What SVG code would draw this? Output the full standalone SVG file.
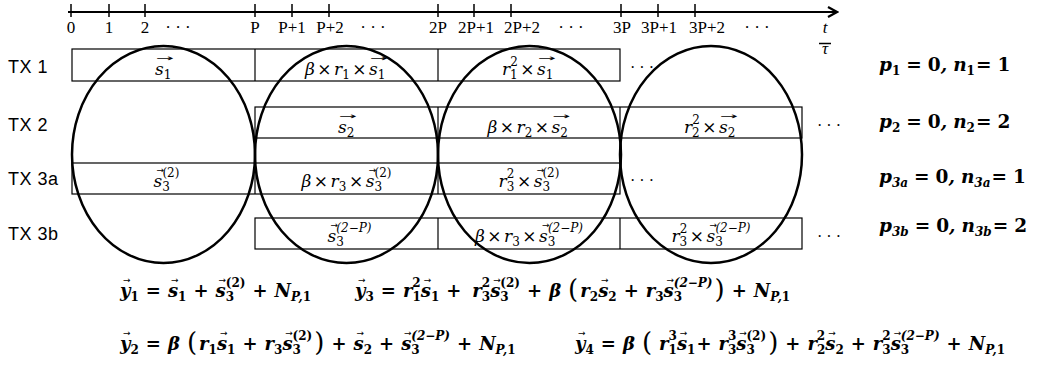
<svg xmlns="http://www.w3.org/2000/svg" width="1039" height="373" viewBox="0 0 1039 373">
<style>
.ax{font-family:"Liberation Serif",serif;font-size:17px;fill:#000;text-anchor:middle}
.lb{font-family:"Liberation Sans",Arial,sans-serif;font-size:18px;fill:#000;letter-spacing:0.5px}
.m{font-family:"DejaVu Serif",serif;font-style:italic;font-size:17px;fill:#000;text-anchor:middle}
.e{font-family:"DejaVu Serif",serif;font-style:italic;font-weight:bold;font-size:18px;fill:#000}
.p{font-family:"DejaVu Serif",serif;font-style:italic;font-weight:bold;font-size:18.5px;fill:#000}
.s{font-size:12px}
.u{font-style:normal}
.ar{font-family:"DejaVu Sans",sans-serif;font-style:normal;font-weight:normal;font-size:9px}
.pa{font-size:26px;font-style:normal;font-weight:normal}
.dots{font-family:"Liberation Serif",serif;font-size:16px;fill:#000}
.box{fill:none;stroke:#000;stroke-width:1.2}
.ell{fill:none;stroke:#000;stroke-width:2.5}
.tick{stroke:#000;stroke-width:1.5}
</style>
<defs>
<marker id="ah" markerWidth="12" markerHeight="12" refX="10" refY="6" orient="auto" markerUnits="userSpaceOnUse">
<path d="M1,1 L10,6 L1,11" fill="none" stroke="#000" stroke-width="2.2"/>
</marker>
</defs>

<g id="connectors">
<line x1="68" y1="12" x2="837" y2="12" stroke="#000" stroke-width="2" marker-end="url(#ah)"/>
<line class="tick" x1="71" y1="4" x2="71" y2="17"/>
<line class="tick" x1="109" y1="4" x2="109" y2="17"/>
<line class="tick" x1="145" y1="4" x2="145" y2="17"/>
<line class="tick" x1="255" y1="4" x2="255" y2="17"/>
<line class="tick" x1="292" y1="4" x2="292" y2="17"/>
<line class="tick" x1="329" y1="4" x2="329" y2="17"/>
<line class="tick" x1="438" y1="4" x2="438" y2="17"/>
<line class="tick" x1="474" y1="4" x2="474" y2="17"/>
<line class="tick" x1="511" y1="4" x2="511" y2="17"/>
<line class="tick" x1="621" y1="4" x2="621" y2="17"/>
<line class="tick" x1="658" y1="4" x2="658" y2="17"/>
<line class="tick" x1="695" y1="4" x2="695" y2="17"/>
</g>

<g id="axis-labels">
<text class="ax" x="71" y="33">0</text>
<text class="ax" x="109" y="33">1</text>
<text class="ax" x="145" y="33">2</text>
<text class="ax" x="178" y="33">· · ·</text>
<text class="ax" x="255" y="33">P</text>
<text class="ax" x="292" y="33">P+1</text>
<text class="ax" x="330" y="33">P+2</text>
<text class="ax" x="373" y="33">· · ·</text>
<text class="ax" x="438" y="33">2P</text>
<text class="ax" x="476" y="33">2P+1</text>
<text class="ax" x="522" y="33">2P+2</text>
<text class="ax" x="571" y="33">· · ·</text>
<text class="ax" x="622" y="33">3P</text>
<text class="ax" x="659" y="33">3P+1</text>
<text class="ax" x="707" y="33">3P+2</text>
<text class="ax" x="757" y="33">· · ·</text>
<text class="ax" x="825" y="33" font-style="italic" font-size="17">t</text>
<line x1="819" y1="43.5" x2="831" y2="43.5" stroke="#000" stroke-width="1.5"/>
<text class="ax" x="825" y="54" font-style="italic" font-size="15">τ</text>
</g>

<g id="row-labels">
<text class="lb" x="8" y="73">TX 1</text>
<text class="lb" x="8" y="131">TX 2</text>
<text class="lb" x="8" y="185">TX 3a</text>
<text class="lb" x="8" y="240">TX 3b</text>
</g>

<g id="tx1">
<rect class="box" x="72" y="49" width="548" height="32"/>
<line class="box" x1="255" y1="49" x2="255" y2="81"/>
<line class="box" x1="438" y1="49" x2="438" y2="81"/>
<text class="m" x="163.5" y="75"><tspan class="ar" dx="1" dy="-14" textLength="18" lengthAdjust="spacingAndGlyphs">→</tspan><tspan dx="-19" dy="14">s</tspan><tspan class="s u" dy="4">1</tspan></text>
<text class="m" x="346.5" y="75">β<tspan class="u" dx="2.5">×</tspan><tspan dx="2.5">r</tspan><tspan class="s u" dy="4">1</tspan><tspan class="u" dx="2.5" dy="-4">×</tspan><tspan class="ar" dx="3.5" dy="-14" textLength="18" lengthAdjust="spacingAndGlyphs">→</tspan><tspan dx="-19" dy="14">s</tspan><tspan class="s u" dy="4">1</tspan></text>
<text class="m" x="529" y="75">r<tspan class="s u" dy="4">1</tspan><tspan class="s u" dx="-7.6" dy="-13">2</tspan><tspan class="u" dx="2.5" dy="9">×</tspan><tspan class="ar" dx="3.5" dy="-14" textLength="18" lengthAdjust="spacingAndGlyphs">→</tspan><tspan dx="-19" dy="14">s</tspan><tspan class="s u" dy="4">1</tspan></text>
<text class="dots" x="630" y="73">· · ·</text>
</g>

<g id="tx2">
<rect class="box" x="255" y="107" width="547" height="31"/>
<line class="box" x1="438" y1="107" x2="438" y2="138"/>
<line class="box" x1="620" y1="107" x2="620" y2="138"/>
<text class="m" x="346.5" y="133"><tspan class="ar" dx="1" dy="-14" textLength="18" lengthAdjust="spacingAndGlyphs">→</tspan><tspan dx="-19" dy="14">s</tspan><tspan class="s u" dy="4">2</tspan></text>
<text class="m" x="529" y="133">β<tspan class="u" dx="2.5">×</tspan><tspan dx="2.5">r</tspan><tspan class="s u" dy="4">2</tspan><tspan class="u" dx="2.5" dy="-4">×</tspan><tspan class="ar" dx="3.5" dy="-14" textLength="18" lengthAdjust="spacingAndGlyphs">→</tspan><tspan dx="-19" dy="14">s</tspan><tspan class="s u" dy="4">2</tspan></text>
<text class="m" x="711" y="133">r<tspan class="s u" dy="4">2</tspan><tspan class="s u" dx="-7.6" dy="-13">2</tspan><tspan class="u" dx="2.5" dy="9">×</tspan><tspan class="ar" dx="3.5" dy="-14" textLength="18" lengthAdjust="spacingAndGlyphs">→</tspan><tspan dx="-19" dy="14">s</tspan><tspan class="s u" dy="4">2</tspan></text>
<text class="dots" x="817" y="131">· · ·</text>
</g>

<g id="tx3a">
<rect class="box" x="72" y="163" width="548" height="31"/>
<line class="box" x1="255" y1="163" x2="255" y2="194"/>
<line class="box" x1="438" y1="163" x2="438" y2="194"/>
<text class="m" x="163.5" y="187"><tspan class="ar" dx="3" dy="-14">→</tspan><tspan dx="-10.5" dy="14">s</tspan><tspan class="s u" dy="4">3</tspan><tspan class="s u" dx="-7.6" dy="-14">(2)</tspan></text>
<text class="m" x="346.5" y="187">β<tspan class="u" dx="2.5">×</tspan><tspan dx="2.5">r</tspan><tspan class="s u" dy="4">3</tspan><tspan class="u" dx="2.5" dy="-4">×</tspan><tspan class="ar" dx="5.5" dy="-14">→</tspan><tspan dx="-10.5" dy="14">s</tspan><tspan class="s u" dy="4">3</tspan><tspan class="s u" dx="-7.6" dy="-14">(2)</tspan></text>
<text class="m" x="529" y="187">r<tspan class="s u" dy="4">3</tspan><tspan class="s u" dx="-7.6" dy="-13">2</tspan><tspan class="u" dx="2.5" dy="9">×</tspan><tspan class="ar" dx="5.5" dy="-14">→</tspan><tspan dx="-10.5" dy="14">s</tspan><tspan class="s u" dy="4">3</tspan><tspan class="s u" dx="-7.6" dy="-14">(2)</tspan></text>
<text class="dots" x="630" y="186">· · ·</text>
</g>

<g id="tx3b">
<rect class="box" x="255" y="218" width="547" height="31"/>
<line class="box" x1="438" y1="218" x2="438" y2="249"/>
<line class="box" x1="620" y1="218" x2="620" y2="249"/>
<text class="m" x="346.5" y="242"><tspan class="ar" dx="3" dy="-14">→</tspan><tspan dx="-10.5" dy="14">s</tspan><tspan class="s u" dy="4">3</tspan><tspan class="s" dx="-7.6" dy="-14">(2−P)</tspan></text>
<text class="m" x="529" y="242">β<tspan class="u" dx="2.5">×</tspan><tspan dx="2.5">r</tspan><tspan class="s u" dy="4">3</tspan><tspan class="u" dx="2.5" dy="-4">×</tspan><tspan class="ar" dx="5.5" dy="-14">→</tspan><tspan dx="-10.5" dy="14">s</tspan><tspan class="s u" dy="4">3</tspan><tspan class="s" dx="-7.6" dy="-14">(2−P)</tspan></text>
<text class="m" x="711" y="242">r<tspan class="s u" dy="4">3</tspan><tspan class="s u" dx="-7.6" dy="-13">2</tspan><tspan class="u" dx="2.5" dy="9">×</tspan><tspan class="ar" dx="5.5" dy="-14">→</tspan><tspan dx="-10.5" dy="14">s</tspan><tspan class="s u" dy="4">3</tspan><tspan class="s" dx="-7.6" dy="-14">(2−P)</tspan></text>
<text class="dots" x="817" y="242">· · ·</text>
</g>

<g id="windows">
<ellipse id="w1" class="ell" cx="163.5" cy="154.5" rx="91.5" ry="108.5"/>
<ellipse id="w2" class="ell" cx="346.5" cy="154.5" rx="91.5" ry="108.5"/>
<ellipse id="w3" class="ell" cx="529.5" cy="154.5" rx="91.5" ry="108.5"/>
<ellipse id="w4" class="ell" cx="711" cy="154.5" rx="91" ry="108.5"/>
</g>

<g id="params">
<text class="p" x="879" y="71">p<tspan class="s u" dy="4">1</tspan><tspan class="u" dx="6" dy="-4">=</tspan><tspan class="u" dx="6">0</tspan>,<tspan dx="6">n</tspan><tspan class="s u" dy="4">1</tspan><tspan class="u" dx="1" dy="-4">=</tspan><tspan class="u" dx="6">1</tspan></text>
<text class="p" x="879" y="128">p<tspan class="s u" dy="4">2</tspan><tspan class="u" dx="6" dy="-4">=</tspan><tspan class="u" dx="6">0</tspan>,<tspan dx="6">n</tspan><tspan class="s u" dy="4">2</tspan><tspan class="u" dx="1" dy="-4">=</tspan><tspan class="u" dx="6">2</tspan></text>
<text class="p" x="879" y="183">p<tspan class="s" dy="4">3a</tspan><tspan class="u" dx="6" dy="-4">=</tspan><tspan class="u" dx="6">0</tspan>,<tspan dx="6">n</tspan><tspan class="s" dy="4">3a</tspan><tspan class="u" dx="1" dy="-4">=</tspan><tspan class="u" dx="6">1</tspan></text>
<text class="p" x="879" y="232">p<tspan class="s" dy="4">3b</tspan><tspan class="u" dx="6" dy="-4">=</tspan><tspan class="u" dx="6">0</tspan>,<tspan dx="6">n</tspan><tspan class="s" dy="4">3b</tspan><tspan class="u" dx="1" dy="-4">=</tspan><tspan class="u" dx="6">2</tspan></text>
</g>

<g id="equations">
<text id="eq-y1" class="e" x="117" y="297"><tspan class="ar" dx="3" dy="-14">→</tspan><tspan dx="-10.5" dy="14">y</tspan><tspan class="s u" dy="4">1</tspan><tspan class="u" dx="7" dy="-4">=</tspan><tspan class="ar" dx="10" dy="-14">→</tspan><tspan dx="-10.5" dy="14">s</tspan><tspan class="s u" dy="4">1</tspan><tspan class="u" dx="7" dy="-4">+</tspan><tspan class="ar" dx="10" dy="-14">→</tspan><tspan dx="-10.5" dy="14">s</tspan><tspan class="s u" dy="4">3</tspan><tspan class="s u" dx="-8.4" dy="-14">(2)</tspan><tspan class="u" dx="7" dy="10">+</tspan><tspan dx="7">N</tspan><tspan class="s" dy="4">P,</tspan><tspan class="s u">1</tspan></text>

<text id="eq-y3" class="e" x="352" y="297"><tspan class="ar" dx="3" dy="-14">→</tspan><tspan dx="-10.5" dy="14">y</tspan><tspan class="s u" dy="4">3</tspan><tspan class="u" dx="7" dy="-4">=</tspan><tspan dx="7">r</tspan><tspan class="s u" dy="4">1</tspan><tspan class="s u" dx="-8.4" dy="-14">2</tspan><tspan class="ar" dx="3" dy="-4">→</tspan><tspan dx="-10.5" dy="14">s</tspan><tspan class="s u" dy="4">1</tspan><tspan class="u" dx="7" dy="-4">+</tspan><tspan dx="11">r</tspan><tspan class="s u" dy="4">3</tspan><tspan class="s u" dx="-8.4" dy="-14">2</tspan><tspan class="ar" dx="3" dy="-4">→</tspan><tspan dx="-10.5" dy="14">s</tspan><tspan class="s u" dy="4">3</tspan><tspan class="s u" dx="-8.4" dy="-14">(2)</tspan><tspan class="u" dx="7" dy="10">+</tspan><tspan dx="7">β</tspan><tspan class="pa" dx="7" dy="1">(</tspan><tspan dx="2" dy="-1">r</tspan><tspan class="s u" dy="4">2</tspan><tspan class="ar" dx="3" dy="-18">→</tspan><tspan dx="-10.5" dy="14">s</tspan><tspan class="s u" dy="4">2</tspan><tspan class="u" dx="7" dy="-4">+</tspan><tspan dx="7">r</tspan><tspan class="s u" dy="4">3</tspan><tspan class="ar" dx="3" dy="-18">→</tspan><tspan dx="-10.5" dy="14">s</tspan><tspan class="s u" dy="4">3</tspan><tspan class="s" dx="-8.4" dy="-14">(2−P)</tspan><tspan class="pa" dx="2" dy="11">)</tspan><tspan class="u" dx="7" dy="-1">+</tspan><tspan dx="7">N</tspan><tspan class="s" dy="4">P,</tspan><tspan class="s u">1</tspan></text>

<text id="eq-y2" class="e" x="117" y="350"><tspan class="ar" dx="3" dy="-14">→</tspan><tspan dx="-10.5" dy="14">y</tspan><tspan class="s u" dy="4">2</tspan><tspan class="u" dx="7" dy="-4">=</tspan><tspan dx="7">β</tspan><tspan class="pa" dx="7" dy="1">(</tspan><tspan dx="2" dy="-1">r</tspan><tspan class="s u" dy="4">1</tspan><tspan class="ar" dx="3" dy="-18">→</tspan><tspan dx="-10.5" dy="14">s</tspan><tspan class="s u" dy="4">1</tspan><tspan class="u" dx="7" dy="-4">+</tspan><tspan dx="7">r</tspan><tspan class="s u" dy="4">3</tspan><tspan class="ar" dx="3" dy="-18">→</tspan><tspan dx="-10.5" dy="14">s</tspan><tspan class="s u" dy="4">3</tspan><tspan class="s u" dx="-8.4" dy="-14">(2)</tspan><tspan class="pa" dx="2" dy="11">)</tspan><tspan class="u" dx="7" dy="-1">+</tspan><tspan class="ar" dx="10" dy="-14">→</tspan><tspan dx="-10.5" dy="14">s</tspan><tspan class="s u" dy="4">2</tspan><tspan class="u" dx="7" dy="-4">+</tspan><tspan class="ar" dx="10" dy="-14">→</tspan><tspan dx="-10.5" dy="14">s</tspan><tspan class="s u" dy="4">3</tspan><tspan class="s" dx="-8.4" dy="-14">(2−P)</tspan><tspan class="u" dx="7" dy="10">+</tspan><tspan dx="7">N</tspan><tspan class="s" dy="4">P,</tspan><tspan class="s u">1</tspan></text>

<text id="eq-y4" class="e" x="572" y="350"><tspan class="ar" dx="3" dy="-14">→</tspan><tspan dx="-10.5" dy="14">y</tspan><tspan class="s u" dy="4">4</tspan><tspan class="u" dx="7" dy="-4">=</tspan><tspan dx="7">β</tspan><tspan class="pa" dx="7" dy="1">(</tspan><tspan dx="7" dy="-1">r</tspan><tspan class="s u" dy="4">1</tspan><tspan class="s u" dx="-8.4" dy="-14">3</tspan><tspan class="ar" dx="3" dy="-4">→</tspan><tspan dx="-10.5" dy="14">s</tspan><tspan class="s u" dy="4">1</tspan><tspan class="u" dx="1" dy="-4">+</tspan><tspan dx="7">r</tspan><tspan class="s u" dy="4">3</tspan><tspan class="s u" dx="-8.4" dy="-14">3</tspan><tspan class="ar" dx="3" dy="-4">→</tspan><tspan dx="-10.5" dy="14">s</tspan><tspan class="s u" dy="4">3</tspan><tspan class="s u" dx="-8.4" dy="-14">(2)</tspan><tspan class="pa" dx="2" dy="11">)</tspan><tspan class="u" dx="7" dy="-1">+</tspan><tspan dx="7">r</tspan><tspan class="s u" dy="4">2</tspan><tspan class="s u" dx="-8.4" dy="-14">2</tspan><tspan class="ar" dx="3" dy="-4">→</tspan><tspan dx="-10.5" dy="14">s</tspan><tspan class="s u" dy="4">2</tspan><tspan class="u" dx="7" dy="-4">+</tspan><tspan dx="7">r</tspan><tspan class="s u" dy="4">3</tspan><tspan class="s u" dx="-8.4" dy="-14">2</tspan><tspan class="ar" dx="3" dy="-4">→</tspan><tspan dx="-10.5" dy="14">s</tspan><tspan class="s u" dy="4">3</tspan><tspan class="s" dx="-8.4" dy="-14">(2−P)</tspan><tspan class="u" dx="7" dy="10">+</tspan><tspan dx="7">N</tspan><tspan class="s" dy="4">P,</tspan><tspan class="s u">1</tspan></text>
</g>
</svg>
